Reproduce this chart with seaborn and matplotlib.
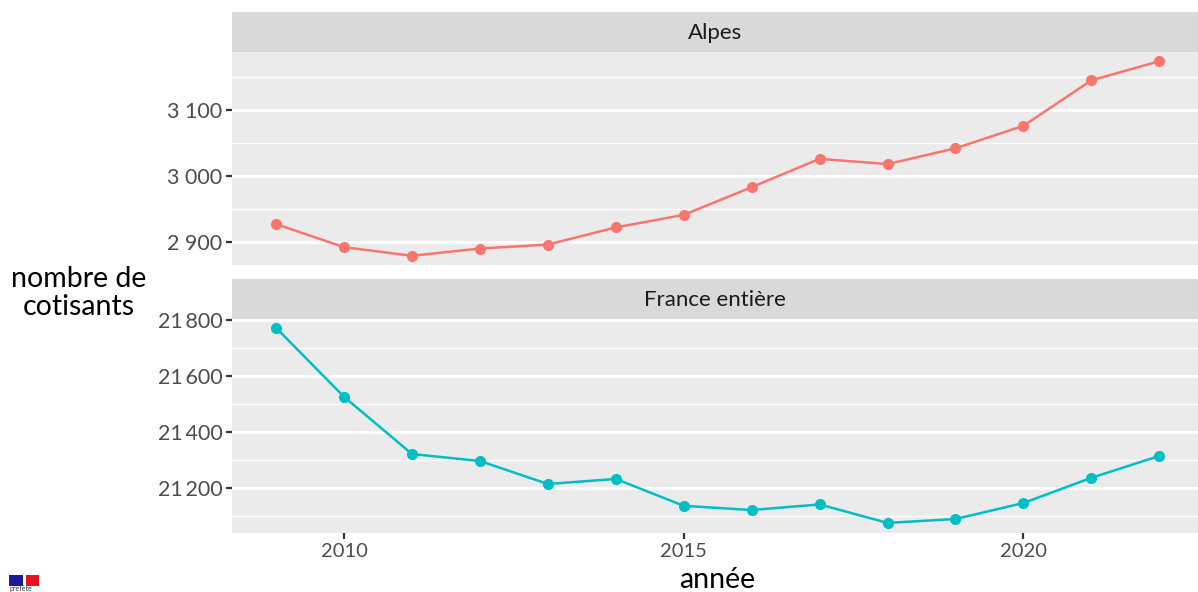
import pandas as pd
import matplotlib.pyplot as plt
from matplotlib.patches import Rectangle
from matplotlib.ticker import FuncFormatter
import seaborn as sns

annees = [2009, 2010, 2011, 2012, 2013, 2014, 2015, 2016, 2017, 2018, 2019, 2020, 2021, 2022]
alpes = [2927, 2892, 2879, 2890, 2896, 2922, 2941, 2983, 3026, 3018, 3042, 3076, 3145, 3174]
france = [21771, 21525, 21321, 21296, 21214, 21232, 21136, 21121, 21141, 21075, 21089, 21146, 21236, 21314]
zones = ['Alpes', 'France entière']
couleurs = ['#F8766D', '#00BFC4']

W, H = 1198, 592

sns.set_theme(style='white')
plt.rcParams['font.family'] = ['Lato', 'DejaVu Sans']

df = pd.DataFrame({
    'annee': annees * 2,
    'cotisants': alpes + france,
    'zone': [zones[0]] * len(annees) + [zones[1]] * len(annees),
})

g = sns.FacetGrid(df, row='zone', hue='zone', palette=couleurs, sharey=False, sharex=True, despine=False)
g.map_dataframe(sns.lineplot, x='annee', y='cotisants', linewidth=1.8, marker='o', markersize=8, markeredgewidth=0)
fig = g.figure
fig.set_size_inches(W / 100, H / 100)
fig.set_dpi(100)

# positions en pixels : gauche, haut, droite, bas
panneaux = [(232, 52, 1198, 265), (232, 319, 1198, 533)]
limites = [(2865, 3188), (21039, 21803)]
majeurs = [[2900, 3000, 3100], [21200, 21400, 21600, 21800]]
mineurs = [[2950, 3050, 3150], [21100, 21300, 21500, 21700]]


def milliers(v, pos):
    return f'{int(v):,}'.replace(',', '\u2009' if v > 10000 else ' ')


for ax, p, lim, maj, mn, nom in zip(g.axes.flat, panneaux, limites, majeurs, mineurs, zones):
    ax.set_position([p[0] / W, 1 - p[3] / H, (p[2] - p[0]) / W, (p[3] - p[1]) / H])
    ax.set_facecolor('#EBEBEB')
    for s in ax.spines.values():
        s.set_visible(False)
    ax.set_xlim(2008.35, 2022.57)
    ax.set_ylim(*lim)
    ax.set_yticks(maj)
    ax.set_yticks(mn, minor=True)
    ax.yaxis.set_major_formatter(FuncFormatter(milliers))
    ax.grid(True, which='major', axis='y', color='white', linewidth=2)
    ax.grid(True, which='minor', axis='y', color='white', linewidth=1)
    ax.set_axisbelow(True)
    ax.tick_params(axis='y', which='major', left=True, length=4, width=1.6, color='#333333',
                   labelsize=15.5, labelcolor='#4D4D4D', pad=3)
    ax.tick_params(axis='y', which='minor', left=False)
    ax.set_xlabel('')
    ax.set_ylabel('')
    ax.set_title('')
    # bandeau du titre de facette
    ax.add_patch(Rectangle((0, 1), 1, 40 / (p[3] - p[1]), transform=ax.transAxes,
                           facecolor='#D9D9D9', edgecolor='none', clip_on=False))
    ax.text(0.5, 1 + 19 / (p[3] - p[1]), nom, transform=ax.transAxes, ha='center', va='center',
            fontsize=16, color='#1A1A1A')

haut, bas = g.axes.flat
haut.tick_params(axis='x', bottom=False, labelbottom=False)
bas.set_xticks([2010, 2015, 2020])
bas.tick_params(axis='x', bottom=True, labelbottom=True, length=4, width=1.6, color='#333333',
                labelsize=14.5, labelcolor='#4D4D4D', pad=3)

fig.text(79 / W, 1 - 293 / H, 'nombre de\ncotisants', ha='center', va='center', fontsize=20.5,
         color='black', linespacing=1.05)
fig.text(717 / W, 1 - 580 / H, 'année', ha='center', va='center', fontsize=20.5, color='black')

# logo en bas a gauche
fig.patches.append(Rectangle((9 / W, 1 - 586 / H), 14 / W, 11 / H, transform=fig.transFigure,
                             facecolor='#1A1A9C', edgecolor='none'))
fig.patches.append(Rectangle((26 / W, 1 - 586 / H), 13 / W, 11 / H, transform=fig.transFigure,
                             facecolor='#E8121E', edgecolor='none'))
fig.text(9 / W, 1 - 591.5 / H, 'préfète', ha='left', va='bottom', fontsize=5, color='#333333')

fig.savefig('out.png', dpi=100)
